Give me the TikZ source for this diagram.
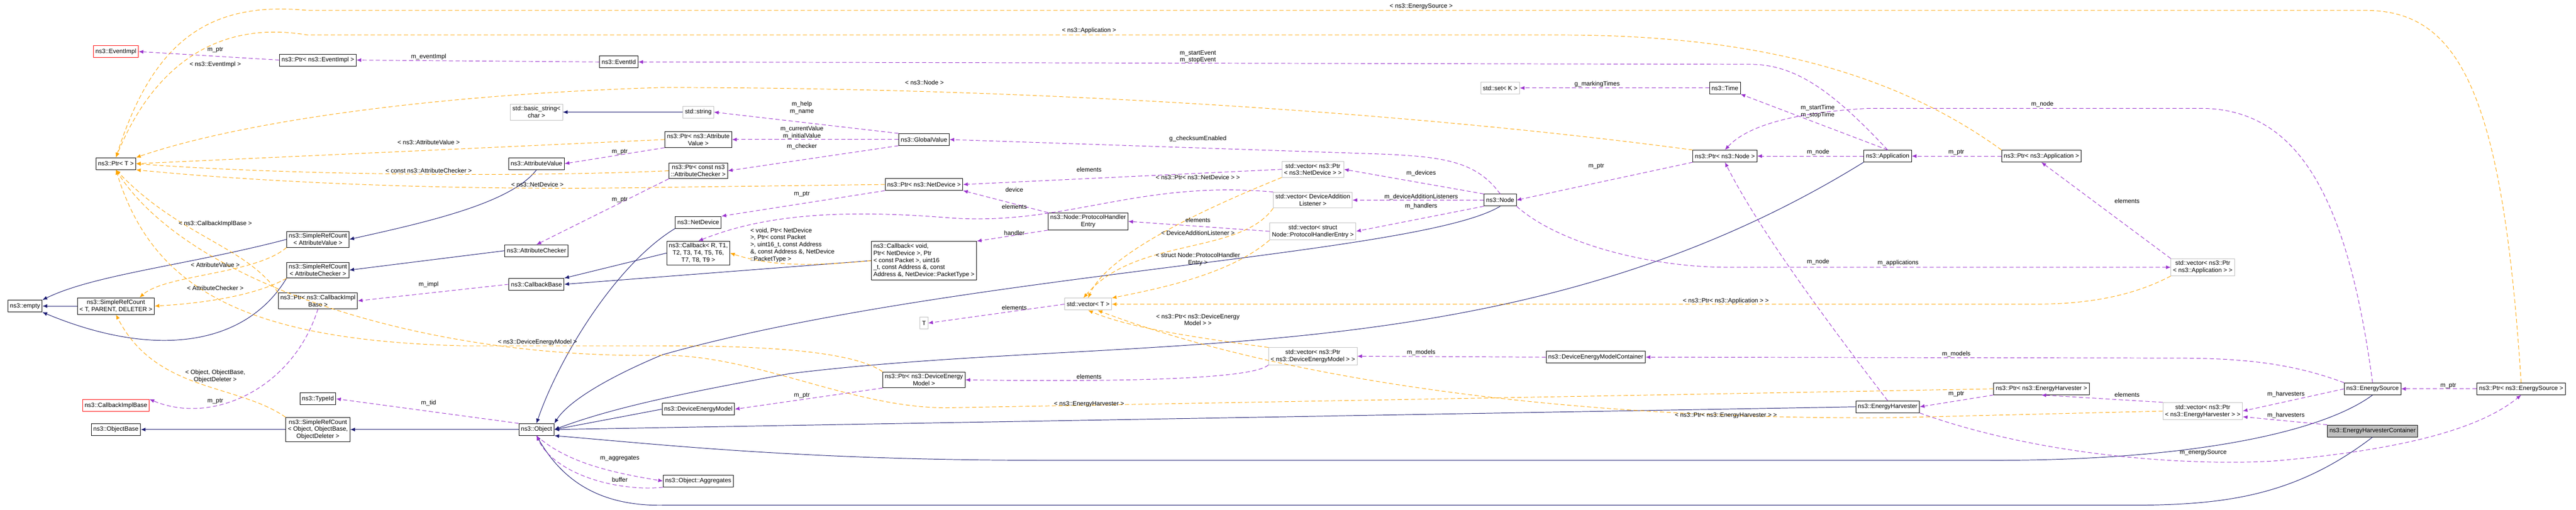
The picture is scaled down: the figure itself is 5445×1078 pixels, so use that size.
\documentclass[tikz,border=0pt]{standalone}
\usepackage{fontspec}
\setmainfont{Liberation Sans}
\usetikzlibrary{arrows.meta,calc}

\definecolor{inhcol}{HTML}{191970}
\definecolor{usecol}{HTML}{9A32CD}
\definecolor{tplcol}{HTML}{FFA500}
\definecolor{extcol}{HTML}{BFBFBF}

\tikzset{
  every node/.style={font=\fontsize{7.4}{8.6}\selectfont},
  cls/.style={draw=black,fill=white,line width=0.6pt,align=center,inner xsep=2.5pt,inner ysep=2.5pt,minimum height=0.5cm},
  ext/.style={cls,draw=extcol},
  redbox/.style={cls,draw=red},
  cur/.style={cls,fill=extcol},
  lbl/.style={inner sep=0.5pt,align=center},
  tip/.style={-{Latex[length=2mm,width=1.6mm]}},
  inh/.style={tip,draw=inhcol,line width=0.6pt},
  use/.style={tip,draw=usecol,line width=0.6pt,dash pattern=on 5pt off 3pt},
  tpl/.style={tip,draw=tplcol,line width=0.6pt,dash pattern=on 5pt off 3pt},
}

\begin{document}
\begin{tikzpicture}[x=0.02cm,y=-0.02cm]
    \useasboundingbox (0,0) rectangle (5445,1078);
    % classes
    \node[redbox] (eimpl) at (245,109) {ns3::EventImpl};
    \node[cls] (pEimpl) at (672,127) {ns3::Ptr< ns3::EventImpl >};
    \node[cls] (eid) at (1308,131) {ns3::EventId};
    \node[ext] (bstr) at (1134,237) {std::basic\_string<\\char >};
    \node[cls] (pT) at (245,346) {ns3::Ptr< T >};
    \node[cls] (aval) at (1134,346) {ns3::AttributeValue};
    \node[cls] (srcAV) at (672,506) {ns3::SimpleRefCount\\< AttributeValue >};
    \node[cls] (achk) at (1134,530) {ns3::AttributeChecker};
    \node[cls] (srcAC) at (672,571) {ns3::SimpleRefCount\\< AttributeChecker >};
    \node[cls] (cbb) at (1134,601) {ns3::CallbackBase};
    \node[cls] (pCbi) at (672,636) {ns3::Ptr< ns3::CallbackImpl\\Base >};
    \node[cls] (empty) at (53,647) {ns3::empty};
    \node[cls] (srcT) at (245,647) {ns3::SimpleRefCount\\< T, PARENT, DELETER >};
    \node[redbox] (cbi) at (245,857) {ns3::CallbackImplBase};
    \node[cls] (obase) at (245,908) {ns3::ObjectBase};
    \node[cls] (tid) at (672,843) {ns3::TypeId};
    \node[cls] (srcObj) at (672,908) {ns3::SimpleRefCount\\< Object, ObjectBase,\\ObjectDeleter >};
    \node[cls] (obj) at (1134,908) {ns3::Object};
    \node[ext] (str) at (1476,237) {std::string};
    \node[cls] (pAV) at (1476,295) {ns3::Ptr< ns3::Attribute\\Value >};
    \node[cls] (pAC) at (1476,361) {ns3::Ptr< const ns3\\::AttributeChecker >};
    \node[cls] (gval) at (1953,295) {ns3::GlobalValue};
    \node[cls] (pND) at (1953,390) {ns3::Ptr< ns3::NetDevice >};
    \node[cls] (nd) at (1476,470) {ns3::NetDevice};
    \node[cls] (phe) at (2300,468) {ns3::Node::ProtocolHandler\\Entry};
    \node[cls] (cbR) at (1476,535) {ns3::Callback< R, T1,\\ T2, T3, T4, T5, T6,\\ T7, T8, T9 >};
    \node[cls,align=left] (cbV) at (1953,551) {ns3::Callback< void,\\ Ptr< NetDevice >, Ptr\\< const Packet >, uint16\\\_t, const Address \&, const\\ Address \&, NetDevice::PacketType >};
    \node[ext] (vND) at (2775,358) {std::vector< ns3::Ptr\\< ns3::NetDevice > >};
    \node[ext] (vDAL) at (2775,423) {std::vector< DeviceAddition\\Listener >};
    \node[ext] (vPHE) at (2775,489) {std::vector< struct\\ Node::ProtocolHandlerEntry >};
    \node[cls] (node) at (3171,423) {ns3::Node};
    \node[cls] (pNode) at (3646,330) {ns3::Ptr< ns3::Node >};
    \node[cls] (tm) at (3646,186) {ns3::Time};
    \node[ext] (setK) at (3171,186) {std::set< K >};
    \node[cls] (app) at (3990,330) {ns3::Application};
    \node[cls] (pApp) at (4315,330) {ns3::Ptr< ns3::Application >};
    \node[ext] (vT) at (2300,643) {std::vector< T >};
    \node[ext] (Tn) at (1953,683) {T};
    \node[cls] (pDEM) at (1953,803) {ns3::Ptr< ns3::DeviceEnergy\\Model >};
    \node[cls] (dem) at (1476,865) {ns3::DeviceEnergyModel};
    \node[cls] (aggr) at (1476,1017) {ns3::Object::Aggregates};
    \node[ext] (vDEM) at (2775,753) {std::vector< ns3::Ptr\\< ns3::DeviceEnergyModel > >};
    \node[cls] (demc) at (3373,755) {ns3::DeviceEnergyModelContainer};
    \node[cls] (eh) at (3990,860) {ns3::EnergyHarvester};
    \node[cls] (pEH) at (4315,822) {ns3::Ptr< ns3::EnergyHarvester >};
    \node[ext] (vApp) at (4656,565) {std::vector< ns3::Ptr\\< ns3::Application > >};
    \node[ext] (vEH) at (4656,869) {std::vector< ns3::Ptr\\< ns3::EnergyHarvester > >};
    \node[cls] (es) at (5015,822) {ns3::EnergySource};
    \node[cls] (pES) at (5329,822) {ns3::Ptr< ns3::EnergySource >};
    \node[cur] (ehc) at (5015,911) {ns3::EnergyHarvesterContainer};

    % inheritance
    \draw[inh] (srcAV.west) .. controls (400,560) and (200,580) .. (empty.north east);
    \draw[inh] (srcAC.south west) .. controls (520,730) and (330,760) .. (empty.south east);
    \draw[inh] (srcT) -- (empty);
    \draw[inh] (aval.south) .. controls (1080,430) and (900,470) .. (srcAV.east);
    \draw[inh] (achk.west) -- (srcAC.east);
    \draw[inh] (str) -- (bstr);
    \draw[inh] (cbR.west) -- (cbb.north east);
    \draw[inh] (cbV.west) -- (cbb.east);
    \draw[inh] (nd.south west) .. controls (1300,560) and (1180,760) .. (obj.north);
    \draw[inh] (node.south) .. controls (3000,540) and (2000,580) .. (1400,750) .. controls (1280,800) and (1200,850) .. (obj.north east);
    \draw[inh] (app.south west) .. controls (3200,800) and (2400,700) .. (1668,790) .. controls (1450,830) and (1300,860) .. (obj.east);
    \draw[inh] (dem.west) -- (obj.east);
    \draw[inh] (eh.west) -- (obj.east);
    \draw[inh] (es.south) .. controls (4900,920) and (4600,975) .. (4200,973) -- (2204,973) .. controls (1700,973) and (1400,940) .. (obj.south east);
    \draw[inh] (ehc.south) .. controls (4850,1050) and (4700,1068) .. (4500,1068) -- (1400,1068) .. controls (1250,1070) and (1180,1000) .. (obj.south);
    \draw[inh] (srcObj) -- (obase);
    \draw[inh] (obj) -- (srcObj);

    % usage
    \draw[use] (pEimpl.west) -- (eimpl.east);
    \draw[use] (eid.west) -- (pEimpl.east);
    \draw[use] (app.north) .. controls (3880,200) and (3800,136) .. (3700,136) -- (eid.east);
    \draw[use] (gval.north west) -- (str.east);
    \draw[use] (gval.west) -- (pAV.east);
    \draw[use] (gval.south west) -- (pAC.east);
    \draw[use] (pAV.south west) -- (aval.east);
    \draw[use] (pAC.south west) -- (achk.north);
    \draw[use] (cbb.west) -- (pCbi.east);
    \draw[use] (pCbi.south) .. controls (620,820) and (450,900) .. (cbi.north east);
    \draw[use] (obj.north west) -- (tid.east);
    \draw[use] (obj.south) .. controls (1200,980) and (1300,1000) .. (aggr.west);
    \draw[use] (aggr.south west) .. controls (1300,1040) and (1170,1000) .. (obj.south);
    \draw[use] (node.north) .. controls (3120,340) and (3050,330) .. (2900,325) -- (gval.east);
    \draw[use] (vND.west) -- (pND.east);
    \draw[use] (pND.south west) -- (nd.north east);
    \draw[use] (phe.north west) -- (pND.south east);
    \draw[use] (phe.south west) -- (cbV.north east);
    \draw[use] (vDAL.north west) .. controls (2400,380) and (2250,480) .. (2000,460) .. controls (1750,440) and (1600,460) .. (cbR.north);
    \draw[use] (vPHE.west) -- (phe.east);
    \draw[use] (vT.west) -- (Tn.east);
    \draw[use] (node.north west) -- (vND.east);
    \draw[use] (node.west) -- (vDAL.east);
    \draw[use] (node.south west) -- (vPHE.east);
    \draw[use] (pNode.south west) -- (node.east);
    \draw[use] (app.west) -- (pNode.east);
    \draw[use] (app.north) -- (tm.south east);
    \draw[use] (tm.west) -- (setK.east);
    \draw[use] (pApp.west) -- (app.east);
    \draw[use] (node.south east) .. controls (3300,520) and (3500,565) .. (3650,565) -- (vApp.west);
    \draw[use] (vApp.north west) -- (pApp.south);
    \draw[use] (es.north) .. controls (4960,400) and (4850,229) .. (4650,229) -- (3950,229) .. controls (3750,240) and (3680,280) .. (pNode.north);
    \draw[use] (eh.north) .. controls (3800,600) and (3700,450) .. (pNode.south);
    \draw[use] (vDEM.south west) .. controls (2650,800) and (2400,808) .. (pDEM.east);
    \draw[use] (pDEM.south west) -- (dem.east);
    \draw[use] (demc.west) -- (vDEM.east);
    \draw[use] (es.north west) .. controls (4850,770) and (4750,757) .. (4600,757) -- (demc.east);
    \draw[use] (pEH.south west) -- (eh.east);
    \draw[use] (vEH.north west) -- (pEH.south);
    \draw[use] (es.west) -- (vEH.east);
    \draw[use] (ehc.north west) -- ($(vEH.east)+(0,12)$);
    \draw[use] (pES.west) -- (es.east);
    \draw[use] (eh.south east) .. controls (4300,960) and (4600,985) .. (4800,975) .. controls (5100,950) and (5250,900) .. (pES.south);

    % templates
    \draw[tpl] (pES.north) .. controls (5290,200) and (5200,22) .. (5000,22) -- (650,22) .. controls (430,0) and (320,100) .. (pT.north);
    \draw[tpl] (pApp.north west) .. controls (4000,150) and (3700,74) .. (3300,74) -- (650,74) .. controls (450,40) and (320,150) .. (pT.north);
    \draw[tpl] (pNode.north west) .. controls (3000,240) and (2200,185) .. (1400,185) .. controls (900,200) and (500,260) .. (pT.north east);
    \draw[tpl] (pAV.west) -- (pT.east);
    \draw[tpl] (pAC.west) .. controls (1100,375) and (600,370) .. (pT.east);
    \draw[tpl] (pND.west) -- (1400,396) .. controls (900,405) and (500,380) .. (pT.south east);
    \draw[tpl] (pCbi.north west) .. controls (520,520) and (380,500) .. (pT.south);
    \draw[tpl] (pDEM.north west) .. controls (1800,740) and (1600,731) .. (1400,731) -- (982,731) .. controls (500,720) and (320,600) .. (pT.south);
    \draw[tpl] (pEH.west) -- (2000,862) .. controls (1800,862) and (1600,751) .. (1400,751) .. controls (900,760) and (400,600) .. (pT.south);
    \draw[tpl] (srcAV.south west) .. controls (540,580) and (350,580) .. ($(srcT.north)+(50,0)$);
    \draw[tpl] (srcAC.south west) .. controls (550,620) and (450,640) .. (srcT.east);
    \draw[tpl] (srcObj.north west) .. controls (500,810) and (330,830) .. (srcT.south);
    \draw[tpl] (cbV.west) .. controls (1700,565) and (1620,560) .. (cbR.east);
    \draw[tpl] (vND.south west) .. controls (2450,480) and (2330,560) .. (vT.north);
    \draw[tpl] (vDAL.south west) .. controls (2620,540) and (2400,500) .. ($(vT.north)+(-10,0)$);
    \draw[tpl] (vPHE.south west) .. controls (2600,580) and (2450,610) .. (vT.north east);
    \draw[tpl] (vApp.south west) .. controls (4500,630) and (4400,643) .. (4300,643) -- (vT.east);
    \draw[tpl] (vDEM.north west) .. controls (2500,710) and (2380,690) .. (vT.south);
    \draw[tpl] (vEH.west) -- (4000,883) .. controls (3300,888) and (2700,800) .. ($(vT.south)+(20,0)$);

    % labels
    \foreach \x/\y/\t [count=\i] in {
      455/106/m\_ptr, 455/137/< ns3::EventImpl >, 906/120/m\_eventImpl,
      3004/14/< ns3::EnergySource >, 2302/65/< ns3::Application >,
      2532/120/{m\_startEvent\\m\_stopEvent}, 1954/174/< ns3::Node >,
      1695/228/{m\_help\\m\_name}, 1695/280/{m\_currentValue\\m\_initialValue},
      1695/310/m\_checker, 2532/293/g\_checksumEnabled,
      906/301/< ns3::AttributeValue >, 906/361/< const ns3::AttributeChecker >,
      1136/390/< ns3::NetDevice >, 1310/321/m\_ptr, 1310/422/m\_ptr,
      455/473/< ns3::CallbackImplBase >, 455/560/< AttributeValue >,
      455/609/< AttributeChecker >, 906/602/m\_impl,
      1136/724/< ns3::DeviceEnergyModel >,
      455/795/{< Object{,} ObjectBase{,}\\ObjectDeleter >},
      455/848/m\_ptr, 906/852/m\_tid, 1310/969/m\_aggregates, 1310/1014/buffer,
      2302/358/elements, 2532/375/< ns3::Ptr< ns3::NetDevice > >,
      1695/410/m\_ptr, 2144/401/device, 2144/437/elements, 2532/465/elements,
      2532/493/< DeviceAdditionListener >, 2144/492/handler,
      2532/548/{< struct Node::ProtocolHandler\\Entry >},
      2144/650/elements, 2532/676/{< ns3::Ptr< ns3::DeviceEnergy\\Model > >},
      2302/796/elements, 1695/836/m\_ptr, 2302/854/< ns3::EnergyHarvester >,
      3376/178/g\_markingTimes, 3842/236/{m\_startTime\\m\_stopTime},
      3843/322/m\_node, 4135/322/m\_ptr, 3374/352/m\_ptr, 3004/366/m\_devices,
      3004/416/m\_deviceAdditionListeners, 3004/436/m\_handlers,
      3843/554/m\_node, 4012/556/m\_applications,
      3648/636/< ns3::Ptr< ns3::Application > >, 3004/745/m\_models,
      4135/748/m\_models, 4135/833/m\_ptr,
      3648/878/< ns3::Ptr< ns3::EnergyHarvester > >, 4317/220/m\_node,
      4496/425/elements, 4496/834/elements, 4832/833/m\_harvesters,
      4832/878/m\_harvesters, 5175/815/m\_ptr, 4657/957/m\_energySource}
      \node[lbl] (lbl\i) at (\x,\y) {\t};
    \node[lbl,align=left] (lblcb) at (1675,518) {< void, Ptr< NetDevice\\>, Ptr< const Packet\\>, uint16\_t, const Address\\\&, const Address \&, NetDevice\\::PacketType >};
\end{tikzpicture}
\end{document}
